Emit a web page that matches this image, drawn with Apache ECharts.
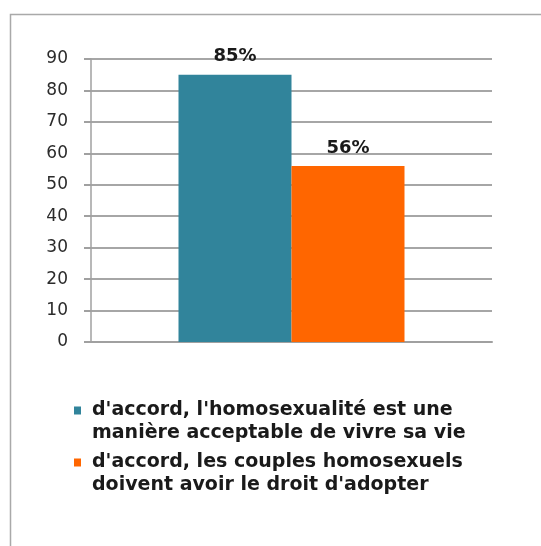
<!DOCTYPE html>
<html>
<head>
<meta charset="utf-8">
<script src="https://cdn.jsdelivr.net/npm/echarts@6/dist/echarts.min.js"></script>
<style>
html,body{margin:0;padding:0;background:#fff;}
#chart{width:541px;height:546px;}
</style>
</head>
<body>
<div id="chart"></div>
<script>
var categories = [''];
var seriesNames = [
  "d'accord, l'homosexualité est une\nmanière acceptable de vivre sa vie",
  "d'accord, les couples homosexuels\ndoivent avoir le droit d'adopter"
];
var acceptValues = [85];
var adoptValues = [56];
var yTicks = [0, 10, 20, 30, 40, 50, 60, 70, 80, 90];

var chart = echarts.init(document.getElementById('chart'), null, {renderer: 'canvas'});
var font = '"DejaVu Sans", sans-serif';
var labelStyle = {
  show: true, position: 'top', distance: 9,
  formatter: '{c}%', fontFamily: font, fontWeight: 'bold', fontSize: 18, color: '#1a1a1a'
};
var legendFirstY = 410, legendStep = 52, legendTextX = 92, lineStep = 23, legendFontSize = 19;
var secondLines = seriesNames.map(function (n, i) {
  return {
    type: 'text', x: legendTextX, y: legendFirstY + i * legendStep + lineStep,
    style: {text: n.split('\n')[1], fontFamily: font, fontWeight: 'bold', fontSize: legendFontSize,
            fill: '#1a1a1a', verticalAlign: 'middle', align: 'left'}
  };
});
chart.setOption({
  backgroundColor: '#ffffff',
  animation: false,
  graphic: [{
    type: 'rect', left: 8, top: 12,
    shape: {width: 540, height: 540},
    style: {fill: 'none', stroke: '#a9a9a9', lineWidth: 1.5}
  }].concat(secondLines),
  grid: {left: 91, right: 49, top: 59, bottom: 204, containLabel: false},
  xAxis: {
    type: 'category', data: categories,
    axisLine: {show: true, lineStyle: {color: '#a0a0a0', width: 2}},
    axisTick: {show: false}, axisLabel: {show: false}
  },
  yAxis: {
    type: 'value', min: yTicks[0], max: yTicks[yTicks.length - 1], interval: 10,
    axisLine: {show: true, lineStyle: {color: '#a0a0a0', width: 1.5}},
    axisTick: {show: true, length: 7, lineStyle: {color: '#a0a0a0', width: 2}},
    splitLine: {show: true, lineStyle: {color: '#a6a6a6', width: 2}},
    axisLabel: {fontFamily: font, fontSize: 17, color: '#2b2b2b', margin: 23}
  },
  legend: {
    orient: 'vertical', left: 69, top: legendFirstY - 16,
    itemWidth: 7, itemHeight: 8, itemGap: legendStep - lineStep,
    icon: 'rect',
    formatter: function (name) { return '{a|' + name.split('\n')[0] + '}'; },
    textStyle: {
      fontFamily: font, fontWeight: 'bold', fontSize: legendFontSize, color: '#1a1a1a', lineHeight: lineStep,
      rich: {a: {fontFamily: font, fontWeight: 'bold', fontSize: legendFontSize, color: '#1a1a1a',
                 lineHeight: lineStep, padding: [0, 0, 0, 6]}}
    },
    data: seriesNames
  },
  series: [
    {name: seriesNames[0], type: 'bar', data: acceptValues, barWidth: 113, barGap: '0%',
     itemStyle: {color: '#31849b'}, label: labelStyle},
    {name: seriesNames[1], type: 'bar', data: adoptValues, barWidth: 113, barGap: '0%',
     itemStyle: {color: '#ff6600'}, label: labelStyle}
  ]
});
</script>
</body>
</html>
